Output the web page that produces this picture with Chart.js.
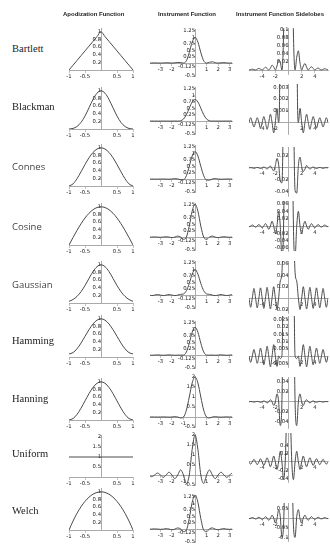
<!DOCTYPE html>
<html>
<head>
<meta charset="utf-8">
<script src="https://cdn.jsdelivr.net/npm/chart.js@4.4.0/dist/chart.umd.min.js"></script>
<style>
  body { margin: 0; width: 330px; height: 545px; overflow: hidden; background: #fff; position: relative; }
  canvas { position: absolute; }
  .title { position: absolute; top: 11px; font: bold 6px "Liberation Sans", sans-serif; color: #222; white-space: nowrap; will-change: transform; }
  .name { position: absolute; left: 12px; font: 10.5px "Liberation Serif", serif; color: #222; white-space: nowrap; }
  .name.sans { font: 9.5px "Open Sans", sans-serif; color: #444; }
</style>
</head>
<body>
<script>
// window names, one row each
const windowNames = ['Bartlett', 'Blackman', 'Connes', 'Cosine', 'Gaussian', 'Hamming', 'Hanning', 'Uniform', 'Welch'];

// apodization functions, x from -1 to 1
const apodX = [-1, -0.875, -0.75, -0.625, -0.5, -0.375, -0.25, -0.125, 0, 0.125, 0.25, 0.375, 0.5, 0.625, 0.75, 0.875, 1];
const bartlettApod = [0, .125, .25, .375, .5, .625, .75, .875, 1, .875, .75, .625, .5, .375, .25, .125, 0];
const blackmanApod = [0, .015, .066, .172, .34, .555, .774, .938, 1, .938, .774, .555, .34, .172, .066, .015, 0];
const connesApod = [0, .055, .191, .371, .563, .739, .879, .969, 1, .969, .879, .739, .563, .371, .191, .055, 0];
const cosineApod = [0, .195, .383, .556, .707, .831, .924, .981, 1, .981, .924, .831, .707, .556, .383, .195, 0];
const gaussianApod = [.044, .091, .172, .295, .458, .644, .823, .952, 1, .952, .823, .644, .458, .295, .172, .091, .044];
const hammingApod = [.08, .115, .215, .364, .54, .716, .865, .965, 1, .965, .865, .716, .54, .364, .215, .115, .08];
const hanningApod = [0, .038, .146, .309, .5, .691, .854, .962, 1, .962, .854, .691, .5, .309, .146, .038, 0];
const uniformApod = [1, 1, 1, 1, 1, 1, 1, 1, 1, 1, 1, 1, 1, 1, 1, 1, 1];
const welchApod = [0, .234, .438, .609, .75, .859, .938, .984, 1, .984, .938, .859, .75, .609, .438, .234, 0];

// instrument functions, x from -6 to 6 (used by both the full and the sidelobe column)
const instrX = [-6, -5.75, -5.5, -5.25, -5, -4.75, -4.5, -4.25, -4, -3.75, -3.5, -3.25, -3, -2.75, -2.5, -2.25, -2, -1.75, -1.5, -1.25, -1, -0.75, -0.5, -0.25,
  0, 0.25, 0.5, 0.75, 1, 1.25, 1.5, 1.75, 2, 2.25, 2.5, 2.75, 3, 3.25, 3.5, 3.75, 4, 4.25, 4.5, 4.75, 5, 5.25, 5.5, 5.75, 6];
const bartlettInstr = [0, .001, .002, .001, 0, .002, .004, .002, 0, .003, .007, .004, 0, .005, .012, .008, 0, .01, .024, .02, 0, .09, .405, .811,
  1, .811, .405, .09, 0, .032, .048, .017, 0, .01, .016, .007, 0, .005, .008, .004, 0, .003, .005, .002, 0, .002, .003, .002, 0];
const blackmanInstr = [0, .0004, 0, -.0004, 0, .0004, 0, -.0005, 0, .0005, 0, -.0006, 0, .0007, 0, -.0009, 0, .0012, 0, .012, .08, .248, .5, .74,
  .84, .74, .5, .248, .08, .012, 0, .0012, 0, -.0009, 0, .0007, 0, -.0006, 0, .0005, 0, -.0005, 0, .0004, 0, -.0004, 0, .0004, 0];
const connesInstr = [0, .0005, 0, -.0006, 0, .0008, 0, -.001, 0, .0015, 0, -.002, .001, .003, -.001, -.005, .004, .016, .006, -.022, -.025, .132, .493, .892,
  1.067, .892, .493, .132, -.038, -.042, .004, .018, .002, -.006, -.002, .004, .001, -.002, 0, .0015, 0, -.001, 0, .0008, 0, -.0006, 0, .0005, 0];
const cosineInstr = [-.0022, 0, .0026, 0, -.0032, 0, .004, 0, -.005, 0, .0065, 0, -.009, 0, .013, 0, -.02, 0, .04, 0, -.085, 0, .424, 1,
  1.273, 1, .424, 0, -.085, 0, .04, 0, -.02, 0, .013, 0, -.009, 0, .0065, 0, -.005, 0, .004, 0, -.0032, 0, .0026, 0, -.0022];
const gaussianInstr = [0, -.016, 0, .017, 0, -.017, 0, .018, 0, -.018, 0, .019, 0, -.019, 0, .02, 0, -.02, 0, .03, .045, .17, .45, .81,
  .99, .81, .45, .17, .045, .03, 0, -.02, 0, .02, 0, -.019, 0, .019, 0, -.018, 0, .018, 0, -.017, 0, .017, 0, -.016, 0];
const hammingInstr = [0, -.0043, 0, .0046, 0, -.005, 0, .0055, 0, -.006, 0, .0068, 0, -.0074, 0, .0079, 0, -.0071, 0, -.0017, 0, .122, .46, .883,
  1.08, .883, .46, .122, 0, -.0017, 0, -.0071, 0, .0079, 0, -.0074, 0, .0068, 0, -.006, 0, .0055, 0, -.005, 0, .0046, 0, -.0043, 0];
const hanningInstr = [0, .0005, 0, -.0006, 0, .0008, 0, -.0011, 0, .0016, 0, -.0023, 0, .0041, 0, -.0074, 0, .016, 0, -.048, 0, .34, 1, 1.698,
  2, 1.698, 1, .34, 0, -.048, 0, .016, 0, -.0074, 0, .0041, 0, -.0023, 0, .0016, 0, -.0011, 0, .0008, 0, -.0006, 0, .0005, 0];
const uniformInstr = [0, -.055, 0, .061, 0, -.067, 0, .075, 0, -.085, 0, .098, 0, -.116, 0, .141, 0, -.182, 0, .255, 0, -.424, 0, 1.273,
  2, 1.273, 0, -.424, 0, .255, 0, -.182, 0, .141, 0, -.116, 0, .098, 0, -.085, 0, .075, 0, -.067, 0, .061, 0, -.055, 0];
const welchInstr = [-.0028, 0, .0034, 0, -.0041, 0, .005, 0, -.0063, 0, .008, .0005, -.011, -.001, .016, .001, -.025, -.003, .045, .008, -.101, -.038, .405, 1.032,
  1.333, 1.032, .405, -.038, -.101, .008, .045, -.003, -.025, .001, .016, -.001, -.011, .0005, .008, 0, -.0063, 0, .005, 0, -.0041, 0, .0034, 0, -.0028];

const apodSeries = [bartlettApod, blackmanApod, connesApod, cosineApod, gaussianApod, hammingApod, hanningApod, uniformApod, welchApod];
const instrSeries = [bartlettInstr, blackmanInstr, connesInstr, cosineInstr, gaussianInstr, hammingInstr, hanningInstr, uniformInstr, welchInstr];

// tick labels
const apodXTicks = [-1, -0.5, 0.5, 1];
const apodYTicks = [0.2, 0.4, 0.6, 0.8, 1];
const uniformApodYTicks = [0.5, 1, 1.5, 2];
const instrXTicks = [-3, -2, 1, 2, 3];
const instrYTicks = [-0.5, -0.125, 0.25, 0.5, 0.75, 1, 1.25];
const tallInstrXTicks = [-3, -2, -1, 1, 2, 3];
const tallInstrYTicks = [-0.5, 0.5, 1, 1.5, 2];
const sideXTicks = [-4, -2, 2, 4];
const sideYTicks = [
  [0.02, 0.04, 0.06, 0.08, 0.1],
  [0.001, 0.002, 0.003],
  [-0.04, -0.02, 0.02],
  [-0.06, -0.04, -0.02, 0.02, 0.04, 0.06],
  [-0.02, 0.02, 0.04, 0.06],
  [-0.005, 0.005, 0.01, 0.015, 0.02, 0.025],
  [-0.04, -0.02, 0.02, 0.04],
  [-0.4, -0.2, 0.2, 0.4],
  [-0.1, -0.05, 0.05]
];

// layout of the grid (pixels)
const rowLabelY = [50, 108, 167, 227, 285, 342, 400, 455, 512];
const apodBase = [70, 129, 186, 245, 303, 357, 420, 477, 530];
const instrAxis = [63, 121, 179, 237, 295, 355, 417, 475, 529];
const sideTop = [28, 84, 147, 201, 261, 316, 377, 433, 503];
const sideBottom = [74, 133.5, 196, 251, 313, 367, 428, 482, 541];
const sideMin = [-0.01, -0.001, -0.047, -0.068, -0.026, -0.0075, -0.053, -0.48, -0.12];
const sideMax = [0.105, 0.0033, 0.035, 0.068, 0.065, 0.0276, 0.05, 0.69, 0.08];

const PAD = 12;

function axisOptions(min, max, ticks, pos) {
    return {
        type: 'linear',
        min: min,
        max: max,
        position: pos,
        afterBuildTicks: scale => { scale.ticks = ticks.map(v => ({ value: v })); },
        ticks: {
            autoSkip: false,
            maxRotation: 0,
            padding: 1,
            color: '#222',
            font: { family: 'DejaVu Sans', size: 5.3 },
            callback: v => String(v)
        },
        grid: { display: true, drawOnChartArea: false, drawTicks: true, tickLength: 2, color: '#999', lineWidth: 0.6 },
        border: { display: true, color: '#aaa', width: 1 }
    };
}

// one small chart: box is the plot area in page pixels
function makePanel(box, xs, ys, xRange, yRange, xTicks, yTicks) {
    const canvas = document.createElement('canvas');
    const left = Math.round(box.left) - PAD;
    const top = Math.round(box.top) - PAD;
    canvas.width = Math.round(box.right - box.left) + 2 * PAD;
    canvas.height = Math.round(box.bottom - box.top) + 2 * PAD;
    canvas.style.left = left + 'px';
    canvas.style.top = top + 'px';
    canvas.style.width = canvas.width + 'px';
    canvas.style.height = canvas.height + 'px';
    document.body.appendChild(canvas);

    new Chart(canvas.getContext('2d'), {
        type: 'line',
        data: {
            datasets: [{
                data: xs.map((x, i) => ({ x: x, y: ys[i] })),
                borderColor: '#4a4a4a',
                borderWidth: 1,
                pointRadius: 0,
                cubicInterpolationMode: 'monotone',
                fill: false
            }]
        },
        options: {
            responsive: false,
            animation: false,
            events: [],
            devicePixelRatio: 1,
            layout: { padding: PAD },
            plugins: { legend: { display: false }, tooltip: { enabled: false } },
            scales: {
                x: axisOptions(xRange[0], xRange[1], xTicks, { y: 0 }),
                y: axisOptions(yRange[0], yRange[1], yTicks, { x: 0 })
            }
        }
    });
}

function addText(cls, text, left, top) {
    const el = document.createElement('div');
    el.className = cls;
    el.textContent = text;
    el.style.left = left + 'px';
    el.style.top = top + 'px';
    document.body.appendChild(el);
    return el;
}

addText('title', 'Apodization Function', 63, 11);
addText('title', 'Instrument Function', 158, 11);
addText('title', 'Instrument Function Sidelobes', 236, 11);

windowNames.forEach((name, i) => {
    const sans = (name === 'Connes' || name === 'Cosine' || name === 'Gaussian');
    addText(sans ? 'name sans' : 'name', name, 12, rowLabelY[i] - 7);

    // apodization function
    const tallApod = (name === 'Uniform');
    makePanel({ left: 69, right: 133, top: apodBase[i] - 42, bottom: apodBase[i] },
        apodX, apodSeries[i], [-1, 1], tallApod ? [0, 2.1] : [0, 1.1],
        apodXTicks, tallApod ? uniformApodYTicks : apodYTicks);

    // instrument function
    const tallInstr = (name === 'Hanning' || name === 'Uniform');
    const ax = instrAxis[i];
    makePanel({ left: 150, right: 232, top: tallInstr ? ax - 41 : ax - 34, bottom: tallInstr ? ax + 10 : ax + 13 },
        instrX, instrSeries[i], [-3.9, 3.2], tallInstr ? [-0.5, 2.05] : [-0.5, 1.32],
        tallInstr ? tallInstrXTicks : instrXTicks, tallInstr ? tallInstrYTicks : instrYTicks);

    // instrument function sidelobes
    makePanel({ left: 249, right: 328, top: sideTop[i], bottom: sideBottom[i] },
        instrX, instrSeries[i], [-6, 6], [sideMin[i], sideMax[i]],
        sideXTicks, sideYTicks[i]);
});
</script>
</body>
</html>
